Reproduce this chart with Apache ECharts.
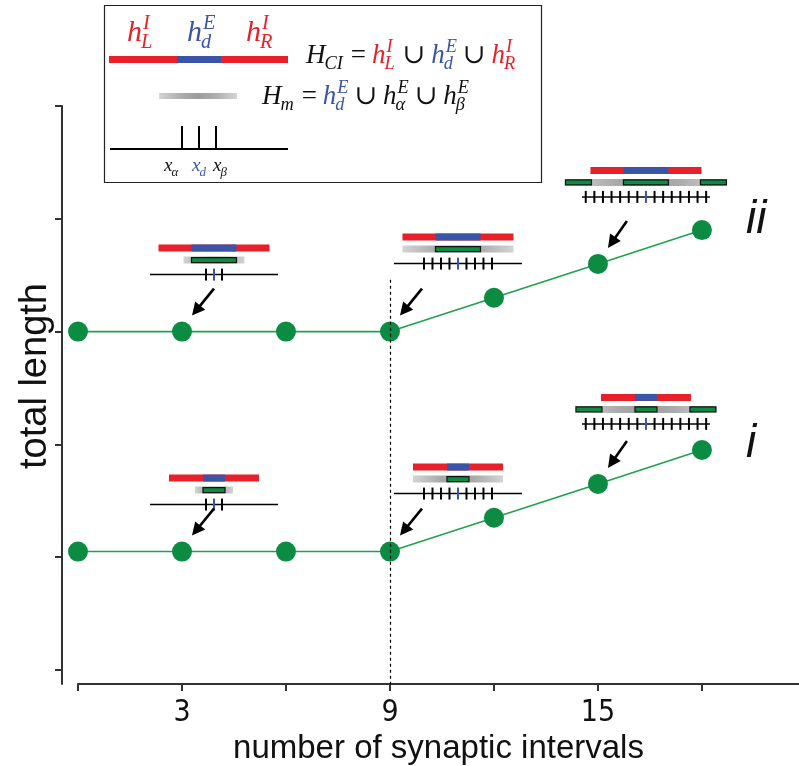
<!DOCTYPE html>
<html>
<head>
<meta charset="UTF-8">
<title>total length</title>
<script src="https://cdn.jsdelivr.net/npm/echarts@6/dist/echarts.min.js"></script>
<style>
html, body { margin: 0; padding: 0; background: #fff; }
#main { width: 799px; height: 766px; }
</style>
</head>
<body>
<div id="main"></div>
<script>
// data
var intervals = [0, 3, 6, 9, 12, 15, 18];
var lengthII = [3, 3, 3, 3, 3.3, 3.6, 3.9];
var lengthI = [1.05, 1.05, 1.05, 1.05, 1.35, 1.65, 1.95];
var xTicks = [0, 3, 6, 9, 12, 15, 18];
var xLabels = [3, 9, 15];
var yTicks = [0, 1, 2, 3, 4, 5];
var curveNames = ['ii', 'i'];
var diagramAt = [3, 9, 15];   // intervals that get a small diagram
var onsetInterval = 9;        // dashed line

var RED = '#e8202a', BLUE = '#3a55a8', GREEN = '#0b8c42', LINE = '#22a04f';
var sansN = "'Liberation Sans Narrow', 'DejaVu Sans Condensed', sans-serif";
var sans = "'Liberation Sans', Arial, sans-serif";
var serif = "'Liberation Serif', 'DejaVu Serif', serif";

function pairs(ys) {
    return intervals.map(function (x, i) { return [x, ys[i]]; });
}

var chart = echarts.init(document.getElementById('main'));

var option = {
    animation: false,
    backgroundColor: '#fff',
    grid: { left: 78, right: 0, top: 106, bottom: 82, outerBoundsMode: 'none', containLabel: false },
    xAxis: {
        type: 'value', min: 0, max: 20.8,
        name: 'number of synaptic intervals',
        nameLocation: 'middle', nameGap: 20,
        nameTextStyle: { fontFamily: sans, fontSize: 33, color: '#111' },
        axisLine: { onZero: false, lineStyle: { color: '#333', width: 2 } },
        axisTick: { customValues: xTicks, length: 7, lineStyle: { color: '#333', width: 2 } },
        axisLabel: { customValues: xLabels, fontFamily: sansN, fontSize: 30, color: '#111', margin: 14 },
        splitLine: { show: false }
    },
    yAxis: {
        type: 'value', min: -0.124, max: 5, offset: 16,
        name: 'total length',
        nameLocation: 'middle', nameGap: 7,
        nameTextStyle: { fontFamily: sans, fontSize: 38, color: '#111', padding: [0, 0, 0, 38] },
        axisLine: { show: true, onZero: false, lineStyle: { color: '#333', width: 2 } },
        axisTick: { show: true, customValues: yTicks, length: 7, lineStyle: { color: '#333', width: 2 } },
        axisLabel: { show: false },
        splitLine: { show: false }
    },
    series: [
        {
            name: 'ii', type: 'line', data: pairs(lengthII),
            symbol: 'circle', symbolSize: 20,
            lineStyle: { color: LINE, width: 1.6 },
            itemStyle: { color: GREEN },
            markLine: {
                silent: true, symbol: 'none', label: { show: false },
                lineStyle: { color: '#000', type: [3, 3], width: 1.2 },
                data: [[{ coord: [onsetInterval, 3.46] }, { coord: [onsetInterval, -0.124] }]]
            },
            z: 3
        },
        {
            name: 'i', type: 'line', data: pairs(lengthI),
            symbol: 'circle', symbolSize: 20,
            lineStyle: { color: LINE, width: 1.6 },
            itemStyle: { color: GREEN },
            z: 3
        }
    ]
};
chart.setOption(option);

// ---------- annotations (drawn as graphics) ----------
var g = [];
var mctx = document.createElement('canvas').getContext('2d');
function textW(s, font) { mctx.font = font; return mctx.measureText(s).width; }

function rect(x, y, w, h, fill, stroke, lw) {
    g.push({ type: 'rect', shape: { x: x, y: y, width: w, height: h },
        style: { fill: fill, stroke: stroke || null, lineWidth: lw || 0 }, z: 10 });
}
function seg(x1, y1, x2, y2, color, w, dash) {
    g.push({ type: 'line', shape: { x1: x1, y1: y1, x2: x2, y2: y2 },
        style: { stroke: color, lineWidth: w, lineDash: dash || null }, z: 10 });
}
// text placed by its baseline
function txt(x, base, s, size, color, family, italic) {
    g.push({ type: 'text', x: x, y: base - 0.305 * size, z: 11,
        style: { text: s, fill: color, font: (italic ? 'italic ' : '') + size + 'px ' + family,
            align: 'left', verticalAlign: 'middle' } });
    return textW(s, (italic ? 'italic ' : '') + size + 'px ' + family);
}
// math row: terms {b, sup, sub, c} or operators {op}
function mathRow(x, base, parts, size) {
    parts.forEach(function (p) {
        if (p.op) {
            x += size * 0.22;
            x += txt(x, base, p.op, size, '#111', serif, false);
            x += size * 0.22;
            return;
        }
        var c = p.c || '#111';
        var w = txt(x, base, p.b, size, c, serif, true);
        var s2 = size * 0.68, ws = 0, wb = 0;
        if (p.sup) ws = txt(x + w + 1, base - size * 0.42, p.sup, s2, c, serif, true);
        if (p.sub) wb = txt(x + w - 1, base + size * 0.22, p.sub, s2, c, serif, true);
        x += w + Math.max(ws, wb) + 1;
    });
    return x;
}
function arrow(x1, y1, x2, y2) {
    var dx = x2 - x1, dy = y2 - y1, L = Math.sqrt(dx * dx + dy * dy), ux = dx / L, uy = dy / L;
    var hl = 13, hw = 6.5, bx = x2 - ux * hl, by = y2 - uy * hl;
    seg(x1, y1, bx + ux * 2, by + uy * 2, '#000', 2.6);
    g.push({ type: 'polygon', shape: { points: [[x2, y2], [bx - uy * hw, by + ux * hw], [bx + uy * hw, by - ux * hw]] },
        style: { fill: '#000' }, z: 10 });
}
function grayFill() {
    return { type: 'linear', x: 0, y: 0, x2: 1, y2: 0, colorStops: [
        { offset: 0, color: '#d4d4d4' }, { offset: 0.3, color: '#ababab' },
        { offset: 0.5, color: '#9c9c9c' }, { offset: 0.7, color: '#ababab' }, { offset: 1, color: '#d4d4d4' }] };
}

// legend box
rect(104.5, 5.5, 437, 177, '#fff', '#222', 1.2);
rect(109, 56, 68, 7, RED); rect(177, 56, 44, 7, BLUE); rect(221, 56, 67, 7, RED);
mathRow(127, 42, [{ b: 'h', sup: 'I', sub: 'L', c: RED }], 30);
mathRow(187, 42, [{ b: 'h', sup: 'E', sub: 'd', c: BLUE }], 30);
mathRow(246, 42, [{ b: 'h', sup: 'I', sub: 'R', c: RED }], 30);
mathRow(306, 64, [{ b: 'H', sub: 'CI' }, { op: '=' }, { b: 'h', sup: 'I', sub: 'L', c: RED }, { op: '\u222A' },
    { b: 'h', sup: 'E', sub: 'd', c: BLUE }, { op: '\u222A' }, { b: 'h', sup: 'I', sub: 'R', c: RED }], 27);
rect(159, 93, 78, 6, grayFill());
mathRow(262, 105, [{ b: 'H', sub: 'm' }, { op: '=' }, { b: 'h', sup: 'E', sub: 'd', c: BLUE }, { op: '\u222A' },
    { b: 'h', sup: 'E', sub: '\u03B1' }, { op: '\u222A' }, { b: 'h', sup: 'E', sub: '\u03B2' }], 27);
seg(110, 149, 288, 149, '#000', 2);
[182, 199, 216].forEach(function (x) { seg(x, 126, x, 149, '#000', 2); });
mathRow(164, 172, [{ b: 'x', sub: '\u03B1' }], 19);
mathRow(192, 172, [{ b: 'x', sub: 'd', c: BLUE }], 19);
mathRow(213, 172, [{ b: 'x', sub: '\u03B2' }], 19);

// per-diagram geometry (style only): series index, interval, kind, vertical offset
var diagrams = [
    { s: 0, x: diagramAt[0], kind: 'small', top: -87 },
    { s: 0, x: diagramAt[1], kind: 'medium', top: -98 },
    { s: 0, x: diagramAt[2], kind: 'large', top: -97 },
    { s: 1, x: diagramAt[0], kind: 'small', top: -77 },
    { s: 1, x: diagramAt[1], kind: 'medium', top: -88 },
    { s: 1, x: diagramAt[2], kind: 'large', top: -90 }
];
var kinds = {
    small: { dx: 32, ticks: 3, step: 8, adx: 32 },
    medium: { dx: 68, ticks: 9, step: 8.5, adx: 32 },
    large: { dx: 48, ticks: 15, step: 8.6, adx: 29 }
};
var widths = [{ W: 111, wd: 45 }, { W: 90, wd: 22 }];
var seriesVals = [lengthII, lengthI];

diagrams.forEach(function (d) {
    var idx = intervals.indexOf(d.x);
    var p = chart.convertToPixel({ seriesIndex: d.s }, [d.x, seriesVals[d.s][idx]]);
    var k = kinds[d.kind], w = widths[d.s];
    var cx = p[0] + k.dx, top = p[1] + d.top;
    rect(cx - w.W / 2, top, w.W, 7, RED);
    rect(cx - w.wd / 2, top, w.wd, 7, BLUE);
    var gw = d.kind === 'small' ? w.wd + 16 : (d.kind === 'medium' ? w.W : w.W + 51);
    var gy = top + 12;
    rect(cx - gw / 2, gy, gw, 7, grayFill());
    rect(cx - w.wd / 2, gy + 1, w.wd, 5, GREEN, '#111', 1.2);
    if (d.kind === 'large') {
        rect(cx - gw / 2 + 0.5, gy + 1, 26, 5, GREEN, '#111', 1.2);
        rect(cx + gw / 2 - 26.5, gy + 1, 26, 5, GREEN, '#111', 1.2);
    }
    var ly = top + 30;
    seg(cx - 64, ly, cx + 64, ly, '#000', 1.5);
    var h = (k.ticks - 1) / 2;
    for (var t = -h; t <= h; t++) {
        seg(cx + t * k.step, ly - 6, cx + t * k.step, ly + 6, t === 0 ? BLUE : '#000', 2);
    }
    arrow(p[0] + k.adx, p[1] - 43, p[0] + 10, p[1] - 16);
});

// curve labels next to the last point
[0, 1].forEach(function (s) {
    var last = intervals.length - 1;
    var p = chart.convertToPixel({ seriesIndex: s }, [intervals[last], seriesVals[s][last]]);
    txt(p[0] + 44, p[1] + (s === 0 ? 4 : 8), curveNames[s], 46, '#111', sans, true);
});

chart.setOption({ graphic: g });
</script>
</body>
</html>
